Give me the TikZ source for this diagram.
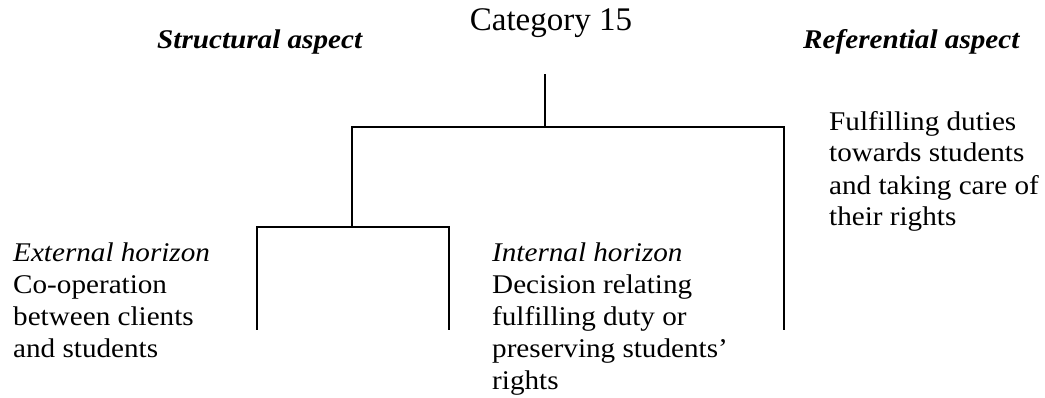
\documentclass[tikz,border=0pt]{standalone}
\usepackage{fontspec}
\setmainfont{Liberation Serif}
\newfontfamily\bodyfont[FakeStretch=1.08]{Liberation Serif}
\begin{document}
\begin{tikzpicture}[x=1pt,y=-1pt,
  txt/.style={inner sep=0pt,anchor=base west,align=left,
    font=\bodyfont\fontsize{27}{32}\selectfont},
  head/.style={inner sep=0pt,anchor=base west,
    font=\bodyfont\fontsize{27}{32}\selectfont\bfseries\itshape},
  title/.style={inner sep=0pt,anchor=base,
    font=\fontsize{33}{38}\selectfont},
  branch/.style={line width=1.6pt,line cap=rect}]
\useasboundingbox (0,0) rectangle (1045,398);

% headings
\node[title] (cat) at (551,31) {Category 15};
\node[head] (struct) at (157,49) {Structural aspect};
\node[head] (ref) at (803,49) {Referential aspect};

% text blocks (anchored at the baseline of their last line)
\node[txt] (reftxt) at (829,226) {Fulfilling duties\\towards students\\and taking care of\\their rights};
\node[txt] (ext) at (13,357) {\textit{External horizon}\\Co-operation\\between clients\\and students};
\node[txt] (int) at (492,389) {\textit{Internal horizon}\\Decision relating\\fulfilling duty or\\preserving students’\\rights};

% tree junctions and leaf ends
\coordinate (stem) at (545,75);
\coordinate (j1) at (545,127);
\coordinate (l1) at (352,127);
\coordinate (r1) at (784,127);
\coordinate (rEnd) at (784,329);
\coordinate (l2) at (352,227);
\coordinate (a2) at (257,227);
\coordinate (b2) at (449,227);
\coordinate (aEnd) at (257,329);
\coordinate (bEnd) at (449,329);

\draw[branch] (stem) -- (j1);
\draw[branch] (rEnd) -- (r1) -- (l1) -- (l2);
\draw[branch] (aEnd) -- (a2) -- (b2) -- (bEnd);
\end{tikzpicture}
\end{document}
